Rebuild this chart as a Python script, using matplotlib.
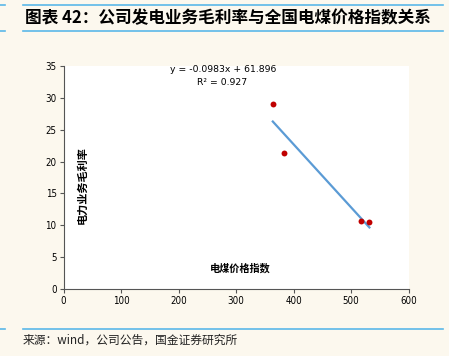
import matplotlib
matplotlib.use('Agg')
import matplotlib.pyplot as plt
from matplotlib.lines import Line2D
import numpy as np

plt.rcParams['font.family'] = ['Noto Sans CJK SC', 'DejaVu Sans']

# data
coal_index = [364, 383, 517, 532]
gross_margin = [29.0, 21.4, 10.6, 10.5]
x_ticks = [0, 100, 200, 300, 400, 500, 600]
y_ticks = [0, 5, 10, 15, 20, 25, 30, 35]
title = '图表 42：公司发电业务毛利率与全国电煤价格指数关系'
source = '来源：wind，公司公告，国金证券研究所'
eq_text = 'y = -0.0983x + 61.896'
r2_text = 'R² = 0.927'

bg = '#fcf8ee'
blue = '#5bb8e8'

fig = plt.figure(figsize=(4.49, 3.56), dpi=100)
fig.patch.set_facecolor(bg)

W, H = 449, 356
def fx(px): return px / W
def fy(py): return 1 - py / H

# white panel behind chart
panel = fig.add_axes([fx(32), fy(319), fx(434) - fx(32), fy(38) - fy(319)], zorder=0)
panel.set_facecolor('white')
panel.axis('off')
panel.patch.set_visible(True)

# decorative rules
for y in (5, 31, 328.5):
    fig.add_artist(Line2D([fx(23), fx(443)], [fy(y), fy(y)], color=blue, lw=1.2))
    fig.add_artist(Line2D([0, fx(5)], [fy(y), fy(y)], color=blue, lw=1.2))

fig.text(fx(25), fy(18), title, fontsize=12, fontweight='bold', va='center', ha='left')
fig.text(fx(23), fy(340), source, fontsize=8.5, va='center', ha='left', color='#222222')

ax = fig.add_axes([fx(63.5), fy(289), fx(408.5) - fx(63.5), fy(66) - fy(289)], zorder=1)
ax.set_facecolor('white')
ax.scatter(coal_index, gross_margin, s=18, color='#c00000', zorder=3, linewidths=0)

k, b = np.polyfit(coal_index, gross_margin, 1)
xs = np.array([min(coal_index), max(coal_index)])
ax.plot(xs, k * xs + b, color='#5b9bd5', lw=1.6, zorder=2)

ax.set_xlim(0, 600)
ax.set_ylim(0, 35)
ax.set_xticks(x_ticks)
ax.set_yticks(y_ticks)
for s in ('top', 'right'):
    ax.spines[s].set_visible(False)
for s in ('left', 'bottom'):
    ax.spines[s].set_color('#555555')
    ax.spines[s].set_linewidth(0.8)
ax.tick_params(length=3, width=0.8, color='#555555', labelsize=7, pad=2)
for lab in ax.get_xticklabels() + ax.get_yticklabels():
    lab.set_family(['DejaVu Sans'])
    lab.set_stretch('condensed')

ax.text(0.464, 0.986, eq_text, transform=ax.transAxes, ha='center', va='center',
        fontsize=6.7, family=['DejaVu Sans'])
ax.text(0.46, 0.924, r2_text, transform=ax.transAxes, ha='center', va='center',
        fontsize=6.7, family=['DejaVu Sans'])
ax.text(0.053, 0.465, '电力业务毛利率', transform=ax.transAxes, rotation=90,
        ha='center', va='center', fontsize=8, fontweight='bold')
ax.text(0.512, 0.09, '电煤价格指数', transform=ax.transAxes,
        ha='center', va='center', fontsize=7.3, fontweight='bold')

fig.savefig('out.png', dpi=100, facecolor=bg)
